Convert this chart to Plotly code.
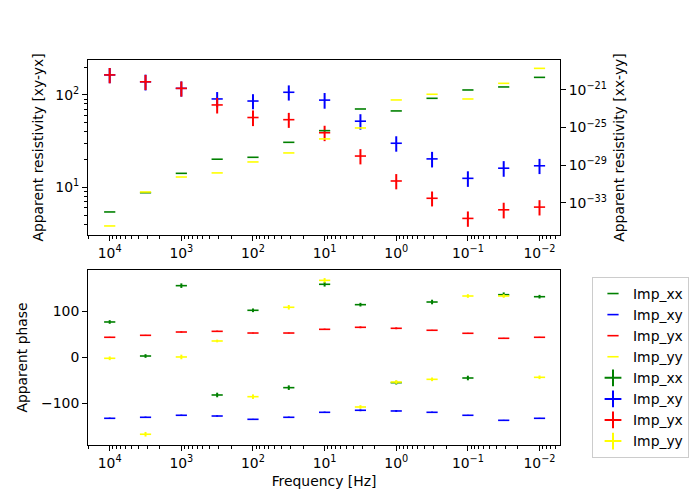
import plotly.graph_objects as go

freq = [1e4, 10**3.5, 1e3, 10**2.5, 1e2, 10**1.5, 1e1, 10**0.5, 1e0, 10**-0.5, 1e-1, 10**-1.5, 1e-2]

# apparent resistivity, off-diagonal (left axis)
rho_xy = [165, 139, 118, 90.6, 86, 107, 88, 52, 30, 20.3, 12.5, 16.1, 17.1]
err_rho_xy = [31, 27, 22, 17, 16, 20, 17, 9.9, 5.7, 3.9, 2.4, 3.1, 3.2]
rho_yx = [165, 139, 118, 78, 57, 54, 39, 21.8, 11.7, 7.6, 4.6, 5.7, 6.1]
err_rho_yx = [31, 26, 22, 15, 11, 10, 7.4, 4.1, 2.2, 1.4, 0.87, 1.1, 1.15]

# apparent resistivity, diagonal (right axis)
rho_xx = [1.05e-34, 1.17e-32, 1.35e-30, 4.3e-29, 6.9e-29, 2.7e-27, 4.7e-26,
          9.5e-24, 5.9e-24, 1.3e-22, 1.0e-21, 2.1e-21, 2.2e-20]
rho_yy = [3.4e-36, 1.4e-32, 5.5e-31, 1.5e-30, 2.2e-29, 2.0e-28, 6.2e-27,
          9.1e-26, 8.7e-23, 3.5e-22, 1.1e-22, 5.1e-21, 2.0e-19]

# apparent phase
ph_xx = [77.1, 2.8, 156.4, -82.3, 102.6, -66.3, 159.4, 114.9, -55.4, 120.7, -45.2, 136.7, 132.3]
err_ph_xx = [4, 4, 5, 5, 4, 5, 5, 4, 4, 5, 5, 5, 4]
ph_xy = [-133.2, -131, -126.6, -128.2, -135.4, -131, -120.1, -115.7, -117.2, -120.1, -126.6, -137.6, -133.2]
err_ph_xy = [1.5, 1.5, 1.5, 1.5, 1, 1.5, 1.5, 2, 2, 1.5, 1, 1, 1]
ph_yx = [43.7, 48, 55.2, 56.7, 53, 53, 61.1, 65.5, 63.3, 59, 52.4, 41.5, 43.7]
err_ph_yx = [1, 1, 1.5, 1.5, 1, 1, 1.5, 2, 2, 1, 1, 1, 1]
ph_yy = [-2.2, -168, 0.7, 35.6, -86, 109.2, 168, -108.5, -54, -48.1, 133.8, 133.8, -43.7]
err_ph_yy = [4, 5, 5, 3, 5, 5, 5, 4, 4, 4, 4, 4, 4]

names = ["Imp_xx", "Imp_xy", "Imp_yx", "Imp_yy"]
colors = ["green", "blue", "red", "yellow"]

FONT = "DejaVu Sans"
FS = 13.9

fig = go.Figure()

def mk(x, y, color, xa, ya, err=None, name=None, showlegend=False):
    kw = {}
    if err is not None:
        kw["error_y"] = dict(type="data", array=err, visible=True, color=color, thickness=2, width=0)
    return go.Scatter(x=x, y=y, mode="markers", xaxis=xa, yaxis=ya, name=name,
                      showlegend=showlegend,
                      marker=dict(symbol="line-ew", size=8, color=color,
                                  line=dict(color=color, width=1.6)), **kw)

# top panel
fig.add_trace(mk(freq, rho_xy, "blue", "x", "y", err_rho_xy))
fig.add_trace(mk(freq, rho_yx, "red", "x", "y", err_rho_yx))
fig.add_trace(mk(freq, rho_xx, "green", "x", "y2"))
fig.add_trace(mk(freq, rho_yy, "yellow", "x", "y2"))

# bottom panel
phs = [ph_xx, ph_xy, ph_yx, ph_yy]
errs = [err_ph_xx, err_ph_xy, err_ph_yx, err_ph_yy]
for n, c, p, e in zip(names, colors, phs, errs):
    fig.add_trace(mk(freq, p, c, "x2", "y3", e, name=n, showlegend=True))

# legend entries for error-bar style
for n, c in zip(names, colors):
    fig.add_trace(go.Scatter(x=[None], y=[None], mode="markers", xaxis="x2", yaxis="y3",
                             name=n, showlegend=True,
                             marker=dict(symbol="cross-thin", size=12, color=c,
                                         line=dict(color=c, width=2))))

def sup(e):
    return "10<sup>" + str(e).replace("-", "\u2212") + "</sup>"

xt = [1e4, 1e3, 1e2, 1e1, 1e0, 1e-1, 1e-2]
xtt = [sup(e) for e in [4, 3, 2, 1, 0, -1, -2]]
x_minor = [m * 10.0 ** d for d in range(-3, 5) for m in range(2, 10)]
y_minor = [m * 10.0 ** d for d in range(0, 3) for m in range(2, 10)]

xdom = [88 / 700, 560 / 700]
common = dict(showline=True, linecolor="black", linewidth=1, ticks="outside", ticklen=5,
              tickcolor="black", showgrid=False, zeroline=False,
              tickfont=dict(family=FONT, size=FS, color="black"))

xaxis_common = dict(common, type="log", range=[4.303, -2.286], tickvals=xt, ticktext=xtt,
                    mirror=True, domain=xdom,
                    minor=dict(ticks="outside", ticklen=3, tickcolor="black", showgrid=False,
                               tickmode="array", tickvals=x_minor))

fig.update_layout(
    width=700, height=500,
    margin=dict(l=0, r=0, t=0, b=0),
    paper_bgcolor="white", plot_bgcolor="white",
    font=dict(family=FONT, size=FS, color="black"),
    xaxis=dict(xaxis_common, anchor="y"),
    yaxis=dict(common, type="log", range=[0.483, 2.379], domain=[1 - 235 / 500, 1 - 60 / 500],
               anchor="x", tickvals=[10, 100], ticktext=[sup(1), sup(2)], mirror=True,
               minor=dict(ticks="outside", ticklen=3, tickcolor="black", showgrid=False,
                          tickmode="array", tickvals=y_minor),
               title=dict(text="Apparent resistivity [xy-yx]", font=dict(family=FONT, size=FS), standoff=8)),
    yaxis2=dict(common, type="log", range=[-36.43, -17.81], overlaying="y", side="right",
                anchor="x", tickvals=[1e-21, 1e-25, 1e-29, 1e-33],
                ticktext=[sup(-21), sup(-25), sup(-29), sup(-33)],
                title=dict(text="Apparent resistivity [xx-yy]", font=dict(family=FONT, size=FS), standoff=8)),
    xaxis2=dict(xaxis_common, anchor="y3",
                title=dict(text="Frequency [Hz]", font=dict(family=FONT, size=FS), standoff=6)),
    yaxis3=dict(common, range=[-191.5, 190.6], domain=[1 - 445 / 500, 1 - 270 / 500], anchor="x2",
                tickvals=[-100, 0, 100], ticktext=["\u2212100", "0", "100"], mirror=True,
                title=dict(text="Apparent phase", font=dict(family=FONT, size=FS), standoff=10)),
    legend=dict(x=592 / 700, y=1 - 277 / 500, xanchor="left", yanchor="top",
                bordercolor="#cccccc", borderwidth=1, bgcolor="white",
                font=dict(family=FONT, size=FS), tracegroupgap=0),
)

fig.write_html("out.html")
